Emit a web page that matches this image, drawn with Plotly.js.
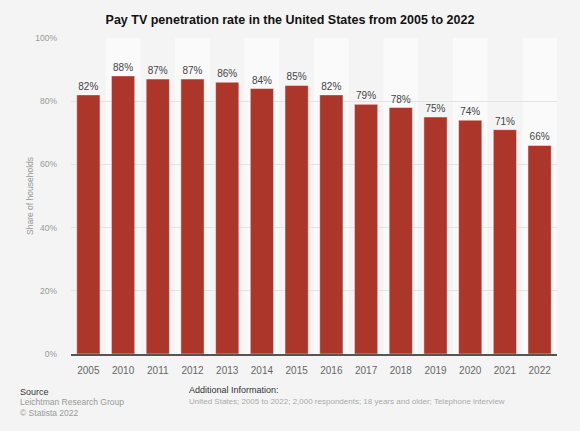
<!DOCTYPE html>
<html>
<head>
<meta charset="utf-8">
<script src="https://cdn.plot.ly/plotly-3.0.1.min.js"></script>
<style>html,body{margin:0;padding:0;background:#f4f4f4;}#chart{width:580px;height:431px;}</style>
</head>
<body>
<div id="chart"></div>
<script>
var years = ["2005","2010","2011","2012","2013","2014","2015","2016","2017","2018","2019","2020","2021","2022"];
var shares = [82,88,87,87,86,84,85,82,79,78,75,74,71,66];
var yTicks = [0,20,40,60,80,100];
var yTickLabels = ["0%","20%","40%","60%","80%","100%"];

var W = 580, H = 431;
var L = 71, R = 23, T = 37.5, B = 77;
var pw = W - L - R, ph = H - T - B;
function px(x){ return (x - L) / pw; }
function py(y){ return (H - B - y) / ph; }

var bands = [];
years.forEach(function(y, i){
  if (i % 2 === 1) {
    bands.push({type:'rect', xref:'x', yref:'y', x0:i-0.5, x1:i+0.5, y0:0, y1:100,
      fillcolor:'#fafafa', line:{width:0}, layer:'below'});
  }
});

var trace = {
  type:'bar', x:years, y:shares,
  text: shares.map(function(v){return v + '%';}),
  textposition:'outside', cliponaxis:false,
  textfont:{family:'Liberation Sans, Arial, sans-serif', size:10, color:'#444'},
  marker:{color:'#ad362a', line:{color:'rgba(255,255,255,0.45)', width:1}},
  hoverinfo:'none'
};

var foot = 'Liberation Sans, Arial, sans-serif';
var layout = {
  width:W, height:H,
  margin:{l:L, r:R, t:T, b:B, pad:0},
  paper_bgcolor:'#f4f4f4', plot_bgcolor:'#f4f4f4',
  font:{family:'Liberation Sans, Arial, sans-serif'},
  title:{text:'<b>Pay TV penetration rate in the United States from 2005 to 2022</b>',
    font:{family:foot, size:12.5, color:'#111'}, x:0.5, xanchor:'center', y:1-19.5/H, yanchor:'middle'},
  bargap:0.33,
  showlegend:false,
  xaxis:{type:'category', showgrid:false, showline:true, linecolor:'#555', linewidth:1.5,
    ticks:'', ticklabelstandoff:6, tickfont:{size:10, color:'#666'}, fixedrange:true},
  yaxis:{range:[0,100], tickvals:yTicks, ticktext:yTickLabels, showgrid:true, gridcolor:'#e3e3e3',
    gridwidth:1, zeroline:false, showline:false, ticks:'', ticklabelstandoff:13,
    tickfont:{size:8.5, color:'#999'},
    title:{text:'Share of households', font:{size:8.5, color:'#999'}, standoff:0}, fixedrange:true},
  shapes: bands,
  annotations:[
    {xref:'paper', yref:'paper', x:px(18), y:py(392), xanchor:'left', yanchor:'middle', showarrow:false,
      text:'Source', font:{family:foot, size:9, color:'#333'}},
    {xref:'paper', yref:'paper', x:px(18), y:py(402.5), xanchor:'left', yanchor:'middle', showarrow:false,
      text:'Leichtman Research Group', font:{family:foot, size:8.5, color:'#999'}},
    {xref:'paper', yref:'paper', x:px(18), y:py(413), xanchor:'left', yanchor:'middle', showarrow:false,
      text:'© Statista 2022', font:{family:foot, size:8.5, color:'#999'}},
    {xref:'paper', yref:'paper', x:px(187), y:py(390), xanchor:'left', yanchor:'middle', showarrow:false,
      text:'Additional Information:', font:{family:foot, size:9, color:'#333'}},
    {xref:'paper', yref:'paper', x:px(187), y:py(401.5), xanchor:'left', yanchor:'middle', showarrow:false,
      text:'United States; 2005 to 2022; 2,000 respondents; 18 years and older; Telephone interview', font:{family:foot, size:8, color:'#aaa'}}
  ]
};
Plotly.newPlot('chart', [trace], layout, {displayModeBar:false, staticPlot:true});
</script>
</body>
</html>
